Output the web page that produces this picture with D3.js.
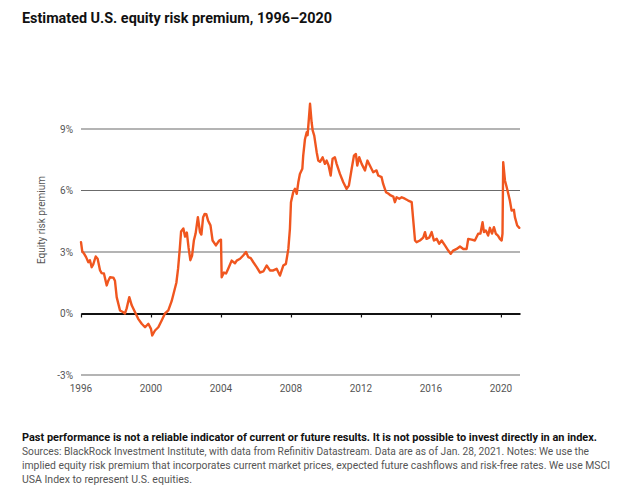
<!DOCTYPE html>
<html>
<head>
<meta charset="utf-8">
<script src="https://cdn.jsdelivr.net/npm/d3@7"></script>
<style>
  html, body { margin: 0; padding: 0; background: #fff; }
  svg { display: block; }
</style>
</head>
<body>
<svg id="chart" width="630" height="486"></svg>
<script>
// ---- Data (decimal year, equity risk premium %) ----
const years = [
  1996.00, 1996.07, 1996.19, 1996.29, 1996.42, 1996.51, 1996.61, 1996.70, 1996.84, 1996.95,
  1997.09, 1997.18, 1997.31, 1997.47, 1997.56, 1997.66, 1997.85, 1997.94,
  1998.04, 1998.23, 1998.42, 1998.51, 1998.61, 1998.76, 1998.90,
  1999.09, 1999.27, 1999.47, 1999.66, 1999.85,
  2000.00, 2000.07, 2000.23, 2000.42, 2000.61, 2000.80, 2000.99,
  2001.18, 2001.33, 2001.45, 2001.55, 2001.65, 2001.72, 2001.85, 2001.95,
  2002.05, 2002.15, 2002.25, 2002.35, 2002.45, 2002.55, 2002.68, 2002.80, 2002.88, 2002.98,
  2003.07, 2003.16, 2003.26, 2003.40, 2003.52, 2003.71, 2003.90, 2004.00,
  2004.04, 2004.17, 2004.29, 2004.42, 2004.61, 2004.80, 2004.90,
  2005.09, 2005.27, 2005.43, 2005.56, 2005.70, 2005.85,
  2006.04, 2006.23, 2006.42, 2006.61, 2006.80, 2006.99,
  2007.18, 2007.37, 2007.56, 2007.71, 2007.85, 2007.94,
  2008.00, 2008.13, 2008.23, 2008.33, 2008.42, 2008.51, 2008.65, 2008.70, 2008.80, 2008.90, 2008.95,
  2009.09, 2009.18, 2009.24, 2009.33, 2009.47, 2009.56, 2009.66, 2009.81, 2009.94,
  2010.04, 2010.15, 2010.27, 2010.38, 2010.51, 2010.61, 2010.80, 2010.99,
  2011.18, 2011.31, 2011.47, 2011.60, 2011.71, 2011.79, 2011.90,
  2012.04, 2012.23, 2012.37, 2012.51, 2012.70, 2012.89, 2012.99,
  2013.18, 2013.27, 2013.43, 2013.56, 2013.70, 2013.85, 2013.94,
  2014.04, 2014.19, 2014.33, 2014.51, 2014.70, 2014.90, 2014.99,
  2015.09, 2015.18, 2015.37, 2015.56, 2015.66, 2015.75, 2015.90,
  2016.04, 2016.17, 2016.33, 2016.47, 2016.61, 2016.80, 2016.99,
  2017.13, 2017.27, 2017.47, 2017.66, 2017.85,
  2018.04, 2018.13, 2018.33, 2018.51, 2018.70, 2018.83, 2018.95,
  2019.03, 2019.14, 2019.27, 2019.37, 2019.49, 2019.60, 2019.71, 2019.83, 2019.94,
  2020.04, 2020.09, 2020.13, 2020.23, 2020.33, 2020.42, 2020.51, 2020.61, 2020.74, 2020.80, 2020.93, 2021.05
];
const premium = [
  3.48, 3.04, 2.90, 2.75, 2.50, 2.60, 2.26, 2.40, 2.78, 2.67,
  2.10, 1.97, 1.95, 1.37, 1.60, 1.77, 1.75, 1.60,
  0.80, 0.15, 0.06, 0.00, 0.25, 0.80, 0.40,
  0.06, -0.26, -0.50, -0.67, -0.50,
  -0.75, -1.07, -0.83, -0.67, -0.34, 0.00, 0.15,
  0.60, 1.10, 1.50, 2.20, 3.20, 4.00, 4.15, 3.75,
  3.95, 3.20, 2.60, 2.83, 3.56, 3.90, 4.70, 3.97, 3.85, 4.70,
  4.86, 4.85, 4.54, 4.30, 3.56, 3.32, 3.56, 3.60,
  1.77, 2.00, 1.95, 2.20, 2.58, 2.45, 2.58,
  2.67, 2.83, 3.00, 2.75, 2.70, 2.50,
  2.26, 2.00, 2.05, 2.34, 2.10, 2.10,
  2.18, 1.85, 2.34, 2.42, 3.15, 4.13,
  5.43, 5.92, 6.08, 5.84, 6.40, 6.80, 7.06, 7.70, 8.50, 8.84, 8.70,
  10.23, 9.33, 8.93, 8.68, 7.87, 7.46, 7.40, 7.62, 7.30,
  7.46, 7.22, 6.73, 7.55, 7.62, 7.30, 6.81, 6.40,
  6.08, 6.24, 7.06, 7.70, 7.78, 7.22, 7.62,
  7.30, 6.98, 7.46, 7.22, 6.89, 6.98, 6.73,
  6.65, 6.32, 5.92, 5.85, 5.76, 5.70, 5.43,
  5.67, 5.60, 5.67, 5.60, 5.51, 5.43, 4.54,
  3.56, 3.48, 3.56, 3.70, 3.97, 3.64, 3.70,
  3.97, 3.56, 3.64, 3.40, 3.56, 3.32, 3.07,
  2.91, 3.07, 3.15, 3.27, 3.15,
  3.15, 3.64, 3.60, 3.56, 3.89, 3.90, 4.45,
  3.97, 4.05, 3.80, 4.18, 3.90, 4.21, 3.89, 3.80, 3.64,
  3.56, 3.90, 7.38, 6.49, 6.16, 5.84, 5.51, 5.02, 5.06, 4.70, 4.29, 4.18
];
const yTicks = [-3, 0, 3, 6, 9];
const xTicks = [1996, 2000, 2004, 2008, 2012, 2016, 2020];

const title = "Estimated U.S. equity risk premium, 1996–2020";
const yLabel = "Equity risk premium";
const footBold = "Past performance is not a reliable indicator of current or future results. It is not possible to invest directly in an index.";
const footLines = [
  "Sources: BlackRock Investment Institute, with data from Refinitiv Datastream. Data are as of Jan. 28, 2021. Notes: We use the",
  "implied equity risk premium that incorporates current market prices, expected future cashflows and risk-free rates. We use MSCI",
  "USA Index to represent U.S. equities."
];

// ---- Drawing ----
const svg = d3.select("#chart");
const data = years.map((y, i) => ({ year: y, value: premium[i] }));

const x = d3.scaleLinear().domain([1996, 2021.09]).range([81, 520]);
const y = d3.scaleLinear().domain([-3, 9]).range([375, 129]);

const FONT = "Roboto, 'Liberation Sans', Arial, sans-serif";

// Title
svg.append("text")
  .attr("x", 22).attr("y", 23)
  .attr("font-family", FONT).attr("font-weight", 700)
  .attr("font-size", 14.5).attr("fill", "#111")
  .attr("textLength", 310).attr("lengthAdjust", "spacingAndGlyphs")
  .text(title);

// Gridlines
svg.append("g").selectAll("line")
  .data(yTicks.filter(d => d !== 0))
  .join("line")
  .attr("x1", x.range()[0]).attr("x2", x.range()[1])
  .attr("y1", d => y(d)).attr("y2", d => y(d))
  .attr("stroke", "#6b6b6b").attr("stroke-width", 1.2);

// Y tick labels
svg.append("g").selectAll("text")
  .data(yTicks)
  .join("text")
  .attr("x", 73).attr("y", d => y(d)).attr("dy", "0.35em")
  .attr("text-anchor", "end")
  .attr("font-family", FONT).attr("font-size", 10).attr("fill", "#555")
  .text(d => d + "%");

// Y axis title
svg.append("text")
  .attr("transform", "translate(45,220) rotate(-90)")
  .attr("text-anchor", "middle")
  .attr("font-family", FONT).attr("font-size", 10).attr("fill", "#555")
  .text(yLabel);

// Zero baseline with ticks
const zeroAxis = d3.axisBottom(x).tickValues(xTicks).tickSize(4).tickFormat("").tickSizeOuter(0);
const gz = svg.append("g").attr("transform", `translate(0,${y(0)})`).call(zeroAxis);
gz.select(".domain").attr("stroke", "#111").attr("stroke-width", 2);
gz.selectAll(".tick line").attr("stroke", "#111").attr("stroke-width", 1.2);

// X labels
svg.append("g").selectAll("text")
  .data(xTicks)
  .join("text")
  .attr("x", d => x(d)).attr("y", 392)
  .attr("text-anchor", "middle")
  .attr("font-family", FONT).attr("font-size", 10).attr("fill", "#555")
  .text(d => d);

// Line
const line = d3.line().x(d => x(d.year)).y(d => y(d.value)).curve(d3.curveLinear);
svg.append("path")
  .datum(data)
  .attr("d", line)
  .attr("fill", "none")
  .attr("stroke", "#f0561f")
  .attr("stroke-width", 2.4)
  .attr("stroke-linejoin", "round")
  .attr("stroke-linecap", "round");

// Footer
svg.append("text")
  .attr("x", 22).attr("y", 441)
  .attr("font-family", FONT).attr("font-weight", 700)
  .attr("font-size", 10.5).attr("fill", "#111")
  .attr("textLength", 575).attr("lengthAdjust", "spacingAndGlyphs")
  .text(footBold);

const footWidths = [567, 588, null];
footLines.forEach((t, i) => {
  const el = svg.append("text")
    .attr("x", 22).attr("y", 455 + i * 14)
    .attr("font-family", FONT).attr("font-size", 10.5).attr("fill", "#555")
    .text(t);
  if (footWidths[i]) el.attr("textLength", footWidths[i]).attr("lengthAdjust", "spacingAndGlyphs");
});
</script>
</body>
</html>
